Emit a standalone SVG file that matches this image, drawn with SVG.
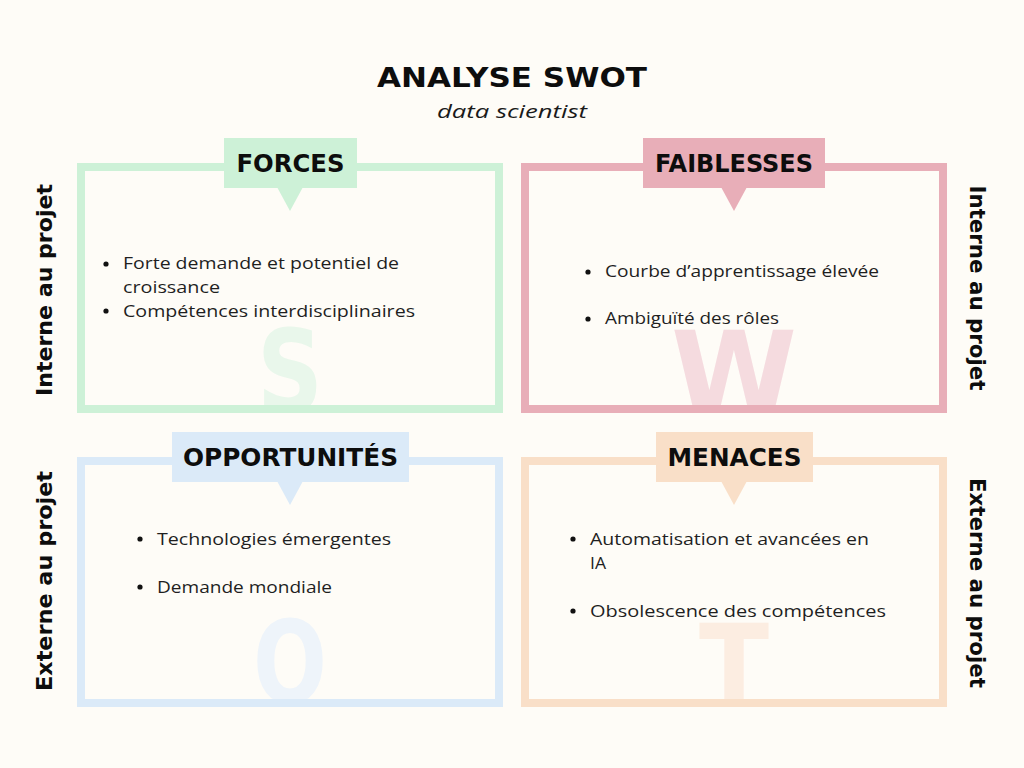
<svg xmlns="http://www.w3.org/2000/svg" width="1024" height="768" viewBox="0 0 1024 768">
  <style>
    .title { font-family: "DejaVu Sans", "Liberation Sans", sans-serif; font-weight: bold; fill: #0d0d0d; text-anchor: middle; }
    .sub { font-family: "Open Sans", "Liberation Sans", sans-serif; font-style: italic; font-size: 19px; fill: #1a1a1a; text-anchor: middle; }
    .head { font-family: "DejaVu Sans", "Liberation Sans", sans-serif; font-weight: bold; font-size: 25px; fill: #0d0d0d; text-anchor: middle; }
    .side { font-family: "DejaVu Sans", "Liberation Sans", sans-serif; font-weight: bold; font-size: 21px; fill: #0d0d0d; text-anchor: middle; }
    .body { font-family: "Open Sans", "Liberation Sans", sans-serif; font-size: 16px; fill: #1f1f1f; }
    .big { font-family: "DejaVu Sans", "Liberation Sans", sans-serif; font-weight: bold; font-size: 114px; text-anchor: middle; }
    .frame { fill: none; stroke-width: 8; }
    .dot { fill: #111; }
  </style>
  <defs>
    <clipPath id="clipS"><rect x="77" y="163" width="426" height="250"/></clipPath>
    <clipPath id="clipW"><rect x="521" y="163" width="426" height="250"/></clipPath>
    <clipPath id="clipO"><rect x="77" y="457" width="426" height="250"/></clipPath>
    <clipPath id="clipT"><rect x="521" y="457" width="426" height="250"/></clipPath>
  </defs>

  <rect width="1024" height="768" fill="#fefcf7"/>

  <!-- title -->
  <g id="title">
    <text class="title" x="512" y="87" font-size="27" textLength="270" lengthAdjust="spacingAndGlyphs">ANALYSE SWOT</text>
    <text class="sub" x="512" y="118" textLength="150" lengthAdjust="spacingAndGlyphs">data scientist</text>
  </g>

  <!-- side labels -->
  <g id="side-labels">
    <text class="side" transform="translate(52,290) rotate(-90)" textLength="212" lengthAdjust="spacingAndGlyphs">Interne au projet</text>
    <text class="side" transform="translate(970,288) rotate(90)" textLength="205" lengthAdjust="spacingAndGlyphs">Interne au projet</text>
    <text class="side" transform="translate(52,581) rotate(-90)" textLength="220" lengthAdjust="spacingAndGlyphs">Externe au projet</text>
    <text class="side" transform="translate(970,583) rotate(90)" textLength="210" lengthAdjust="spacingAndGlyphs">Externe au projet</text>
  </g>

  <!-- Strengths -->
  <g id="forces">
    <text class="big" x="290" y="411" fill="#e9f7eb" clip-path="url(#clipS)" textLength="66" lengthAdjust="spacingAndGlyphs">S</text>
    <rect class="frame" x="81" y="167" width="418" height="242" stroke="#cdf1d7"/>
    <rect x="224" y="138" width="133" height="50" fill="#cdf1d7"/>
    <polygon points="277,187 303,187 290,211" fill="#cdf1d7"/>
    <text class="head" x="290.5" y="172" textLength="108" lengthAdjust="spacingAndGlyphs">FORCES</text>
    <circle class="dot" cx="106" cy="264" r="2.6"/>
    <text class="body" x="123" y="269" textLength="276" lengthAdjust="spacingAndGlyphs">Forte demande et potentiel de</text>
    <text class="body" x="123" y="293" textLength="97" lengthAdjust="spacingAndGlyphs">croissance</text>
    <circle class="dot" cx="106" cy="311" r="2.6"/>
    <text class="body" x="123" y="317" textLength="292" lengthAdjust="spacingAndGlyphs">Compétences interdisciplinaires</text>
  </g>

  <!-- Weaknesses -->
  <g id="faiblesses">
    <text class="big" x="734" y="413" fill="#f5dbdf" clip-path="url(#clipW)" textLength="126" lengthAdjust="spacingAndGlyphs">W</text>
    <rect class="frame" x="525" y="167" width="418" height="242" stroke="#e8aeb8"/>
    <rect x="643" y="138" width="182" height="50" fill="#e8aeb8"/>
    <polygon points="721,187 747,187 734,211" fill="#e8aeb8"/>
    <text class="head" x="734" y="172" textLength="158" lengthAdjust="spacingAndGlyphs">FAIBLESSES</text>
    <circle class="dot" cx="588" cy="272" r="2.6"/>
    <text class="body" x="605" y="277" textLength="274" lengthAdjust="spacingAndGlyphs">Courbe d’apprentissage élevée</text>
    <circle class="dot" cx="588" cy="319" r="2.6"/>
    <text class="body" x="605" y="324" textLength="174" lengthAdjust="spacingAndGlyphs">Ambiguïté des rôles</text>
  </g>

  <!-- Opportunities -->
  <g id="opportunites">
    <text class="big" x="290" y="702" fill="#eef4fa" clip-path="url(#clipO)" textLength="74" lengthAdjust="spacingAndGlyphs">O</text>
    <rect class="frame" x="81" y="461" width="418" height="242" stroke="#dbeaf8"/>
    <rect x="172" y="432" width="237" height="50" fill="#dbeaf8"/>
    <polygon points="277,481 303,481 290,505" fill="#dbeaf8"/>
    <text class="head" x="290.5" y="466" textLength="215" lengthAdjust="spacingAndGlyphs">OPPORTUNITÉS</text>
    <circle class="dot" cx="140" cy="539" r="2.6"/>
    <text class="body" x="157" y="545" textLength="234" lengthAdjust="spacingAndGlyphs">Technologies émergentes</text>
    <circle class="dot" cx="140" cy="587" r="2.6"/>
    <text class="body" x="157" y="593" textLength="175" lengthAdjust="spacingAndGlyphs">Demande mondiale</text>
  </g>

  <!-- Threats -->
  <g id="menaces">
    <text class="big" x="734" y="706" fill="#fcede1" clip-path="url(#clipT)" textLength="70" lengthAdjust="spacingAndGlyphs">T</text>
    <rect class="frame" x="525" y="461" width="418" height="242" stroke="#f9dfc8"/>
    <rect x="656" y="432" width="157" height="50" fill="#f9dfc8"/>
    <polygon points="721,481 747,481 734,505" fill="#f9dfc8"/>
    <text class="head" x="734.5" y="466" textLength="134" lengthAdjust="spacingAndGlyphs">MENACES</text>
    <circle class="dot" cx="573" cy="539" r="2.6"/>
    <text class="body" x="590" y="545" textLength="279" lengthAdjust="spacingAndGlyphs">Automatisation et avancées en</text>
    <text class="body" x="590" y="569" textLength="16" lengthAdjust="spacingAndGlyphs">IA</text>
    <circle class="dot" cx="573" cy="611" r="2.6"/>
    <text class="body" x="590" y="617" textLength="296" lengthAdjust="spacingAndGlyphs">Obsolescence des compétences</text>
  </g>
</svg>
